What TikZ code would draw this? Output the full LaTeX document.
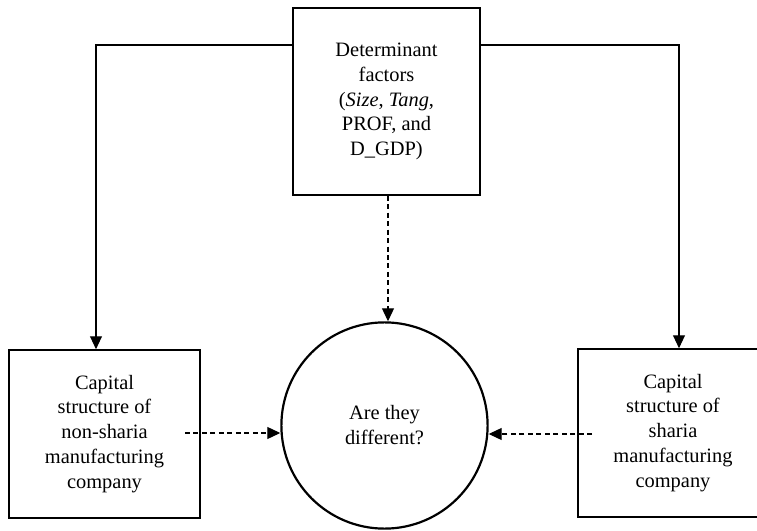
\documentclass[tikz,border=0pt]{standalone}
\usepackage{fontspec}
\setmainfont{Liberation Serif}
\usetikzlibrary{arrows.meta, positioning}

\tikzset{
  factorbox/.style={draw, line width=2.2pt, minimum width=187pt, minimum height=187pt, align=center, inner sep=0pt},
  groupbox/.style={draw, line width=2.2pt, minimum width=191pt, minimum height=168pt, align=center, inner sep=0pt},
  askcircle/.style={draw, circle, line width=2.2pt, minimum size=207pt, align=center, inner sep=0pt},
  link/.style={-{Triangle[length=13pt,width=12pt]}, line width=1.1pt},
  dashlink/.style={link, dash pattern=on 5pt off 3.5pt}
}

\begin{document}
\begin{tikzpicture}[x=1bp,y=-1bp,font=\fontsize{20.5}{25}\selectfont]
    \useasboundingbox (0,0) rectangle (757,531);

    \node[factorbox] (det) at (386.5,101.5) {Determinant\\factors\\(\textit{Size}, \textit{Tang},\\PROF, and\\D\_GDP)};
    \node[groupbox] (nonsharia) at (104.5,434) {Capital\\structure of\\non-sharia\\manufacturing\\company};
    \node[groupbox] (sharia) at (673,433) {Capital\\structure of\\sharia\\manufacturing\\company};
    \node[askcircle] (diff) at (384.5,425.5) {Are they\\different?};

    % corners of the solid connectors
    \coordinate (lcorner) at (96,45);
    \coordinate (rcorner) at (679,45);
    \coordinate (nsstart) at (185,433);
    \coordinate (shstart) at (592,434);

    \draw[link] (det.west |- lcorner) -- (lcorner) -- (lcorner |- nonsharia.north);
    \draw[link] (det.east |- rcorner) -- (rcorner) -- (rcorner |- sharia.north);

    \draw[dashlink] (det.south -| 388,0) -- (388,0 |- diff.north);
    \draw[dashlink] (nsstart) -- (nsstart -| diff.west);
    \draw[dashlink] (shstart) -- (shstart -| diff.east);
\end{tikzpicture}
\end{document}
